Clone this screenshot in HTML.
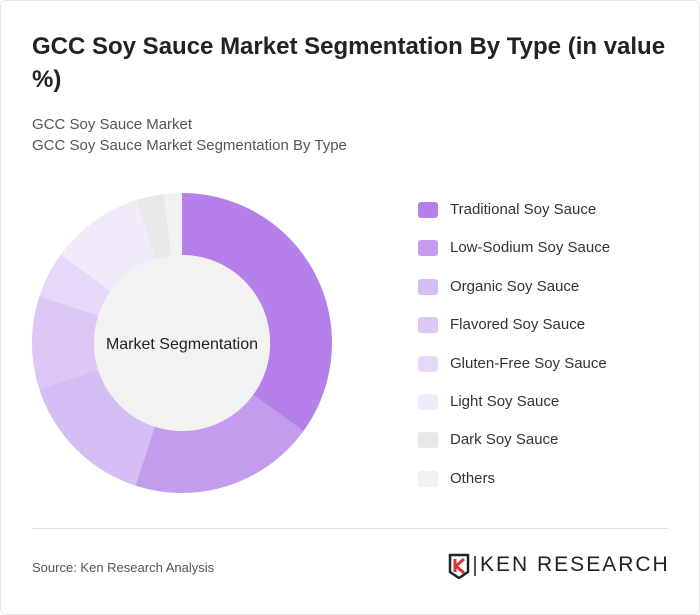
<!DOCTYPE html>
<html><head><meta charset="utf-8"><style>
body{margin:0;width:700px;height:615px;background:#fff;font-family:"Liberation Sans",sans-serif;overflow:hidden}
.card{position:absolute;left:0;top:0;width:698px;height:613px;border:1px solid #e6e6e6;border-radius:6px;background:#fff}
h1{position:absolute;left:32px;top:30px;margin:0;width:640px;font-size:24px;line-height:33px;font-weight:bold;color:#222}
.sub{position:absolute;left:32px;top:114px;font-size:15px;line-height:21px;color:#555}
.leg{position:absolute;left:418px;font-size:15px;color:#333}
.leg i{position:absolute;left:0;top:3px;width:20px;height:16px;border-radius:3px}
.leg span{position:absolute;left:32px;top:0;white-space:nowrap;line-height:22px}
hr{position:absolute;left:32px;top:528px;width:636px;margin:0;border:0;border-top:1px solid #ddd}
.src{position:absolute;left:32px;top:560px;font-size:13px;color:#555}
.logo{position:absolute;left:448px;top:553px;font-size:21px;color:#222;letter-spacing:2px;white-space:nowrap}
</style></head><body><div class="card"></div>
<h1>GCC Soy Sauce Market Segmentation By Type (in value %)</h1>
<div class="sub">GCC Soy Sauce Market<br>GCC Soy Sauce Market Segmentation By Type</div>
<svg style="position:absolute;left:0;top:0" width="400" height="520">
<g transform="rotate(-90 182 343)" fill="none" stroke-width="62">
<circle cx="182" cy="343" r="119" stroke="#b580ea" stroke-dasharray="261.7 1000" stroke-dashoffset="0"/>
<circle cx="182" cy="343" r="119" stroke="#c49cee" stroke-dasharray="149.5 1000" stroke-dashoffset="-261.7"/>
<circle cx="182" cy="343" r="119" stroke="#d6bdf4" stroke-dasharray="112.2 1000" stroke-dashoffset="-411.2"/>
<circle cx="182" cy="343" r="119" stroke="#dcc7f5" stroke-dasharray="74.8 1000" stroke-dashoffset="-523.4"/>
<circle cx="182" cy="343" r="119" stroke="#e6d8f8" stroke-dasharray="37.4 1000" stroke-dashoffset="-598.2"/>
<circle cx="182" cy="343" r="119" stroke="#f1eafb" stroke-dasharray="74.8 1000" stroke-dashoffset="-635.6"/>
<circle cx="182" cy="343" r="119" stroke="#e8e8e8" stroke-dasharray="22.4 1000" stroke-dashoffset="-710.4"/>
<circle cx="182" cy="343" r="119" stroke="#f1f1f1" stroke-dasharray="14.9 1000" stroke-dashoffset="-732.8"/>
</g>
<circle cx="182" cy="343" r="88" fill="#f2f2f2"/>
<text x="182" y="349" text-anchor="middle" font-size="16" fill="#222" font-family="Liberation Sans,sans-serif">Market Segmentation</text>
</svg>
<div class="leg" style="top:199px"><i style="background:#b580ea"></i><span>Traditional Soy Sauce</span></div>
<div class="leg" style="top:237px"><i style="background:#c49cee"></i><span>Low-Sodium Soy Sauce</span></div>
<div class="leg" style="top:276px"><i style="background:#d6bdf4"></i><span>Organic Soy Sauce</span></div>
<div class="leg" style="top:314px"><i style="background:#dcc7f5"></i><span>Flavored Soy Sauce</span></div>
<div class="leg" style="top:353px"><i style="background:#e6d8f8"></i><span>Gluten-Free Soy Sauce</span></div>
<div class="leg" style="top:391px"><i style="background:#f1eafb"></i><span>Light Soy Sauce</span></div>
<div class="leg" style="top:429px"><i style="background:#e8e8e8"></i><span>Dark Soy Sauce</span></div>
<div class="leg" style="top:468px"><i style="background:#f1f1f1"></i><span>Others</span></div>
<hr>
<div class="src">Source: Ken Research Analysis</div>
<svg style="position:absolute;left:448px;top:553px" width="22" height="26"><path d="M2 2h18v17l-9 6-9-6z" fill="none" stroke="#222" stroke-width="2.5"/><path d="M7 6v13M16 6l-8 7 8 7" fill="none" stroke="#d33" stroke-width="3"/></svg>
<div style="position:absolute;left:474px;top:556px;width:2px;height:20px;background:#555"></div>
<div class="logo" style="left:480px">KEN RESEARCH</div>
</body></html>
